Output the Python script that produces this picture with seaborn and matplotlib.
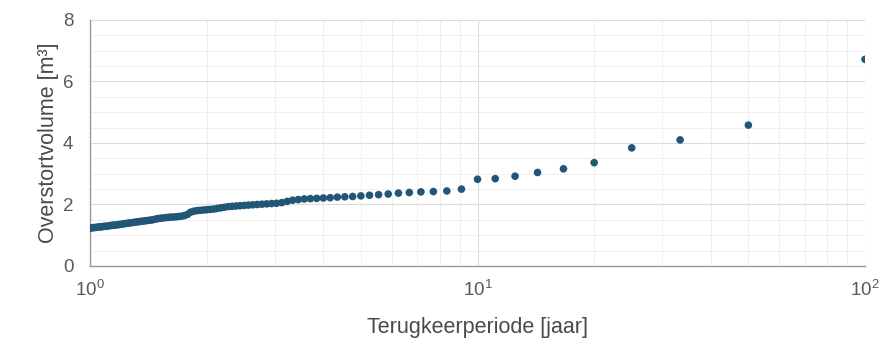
import numpy as np
import pandas as pd
import seaborn as sns
import matplotlib.pyplot as plt
from matplotlib.ticker import LogLocator, MultipleLocator, NullFormatter

# terugkeerperiode (jaar) per rang
periods = [100, 50, 33.333, 25, 20, 16.667, 14.286, 12.5, 11.111, 10,
           9.091, 8.333, 7.692, 7.143, 6.667, 6.25, 5.882, 5.556, 5.263, 5,
           4.762, 4.545, 4.348, 4.167, 4, 3.846, 3.704, 3.571, 3.448, 3.333,
           3.226, 3.125, 3.03, 2.941, 2.857, 2.778, 2.703, 2.632, 2.564, 2.5,
           2.439, 2.381, 2.326, 2.273, 2.222, 2.174, 2.128, 2.083, 2.041, 2,
           1.961, 1.923, 1.887, 1.852, 1.818, 1.786, 1.754, 1.724, 1.695, 1.667,
           1.639, 1.613, 1.587, 1.563, 1.538, 1.515, 1.493, 1.471, 1.449, 1.429,
           1.408, 1.389, 1.37, 1.351, 1.333, 1.316, 1.299, 1.282, 1.266, 1.25,
           1.235, 1.22, 1.205, 1.19, 1.176, 1.163, 1.149, 1.136, 1.124, 1.111,
           1.099, 1.087, 1.075, 1.064, 1.053, 1.042, 1.031, 1.02, 1.01, 1]

# overstortvolume (m3)
volumes = [6.72, 4.58, 4.10, 3.84, 3.36, 3.16, 3.04, 2.92, 2.84, 2.82,
           2.50, 2.44, 2.42, 2.41, 2.39, 2.37, 2.34, 2.32, 2.30, 2.28,
           2.26, 2.25, 2.24, 2.22, 2.21, 2.20, 2.19, 2.18, 2.16, 2.14,
           2.10, 2.06, 2.04, 2.03, 2.02, 2.01, 2.00, 1.99, 1.98, 1.97,
           1.96, 1.95, 1.94, 1.93, 1.91, 1.89, 1.87, 1.85, 1.84, 1.83,
           1.82, 1.81, 1.80, 1.78, 1.75, 1.68, 1.64, 1.62, 1.61, 1.60,
           1.59, 1.59, 1.58, 1.57, 1.56, 1.55, 1.54, 1.52, 1.50, 1.49,
           1.48, 1.47, 1.46, 1.45, 1.44, 1.43, 1.42, 1.41, 1.40, 1.39,
           1.38, 1.37, 1.36, 1.35, 1.34, 1.33, 1.33, 1.32, 1.31, 1.30,
           1.29, 1.29, 1.28, 1.27, 1.27, 1.26, 1.25, 1.25, 1.24, 1.23]

df = pd.DataFrame({'T': periods, 'V': volumes})

sns.set_style('white')
plt.rcParams['font.family'] = ['Liberation Sans', 'DejaVu Sans']
plt.rcParams['mathtext.fontset'] = 'custom'
plt.rcParams['mathtext.rm'] = 'Liberation Sans'

fig = plt.figure(figsize=(8.86, 3.5), dpi=100)
ax = fig.add_axes([0.1016, 0.24, 0.8747, 0.703])

sns.scatterplot(data=df, x='T', y='V', ax=ax, color='#225677', s=30,
                edgecolor='none', zorder=3)

ax.set_xscale('log')
ax.set_xlim(1, 100)
ax.set_ylim(0, 8)
ax.xaxis.set_major_locator(LogLocator(base=10))
ax.xaxis.set_minor_locator(LogLocator(base=10, subs=np.arange(2, 10)))
ax.xaxis.set_minor_formatter(NullFormatter())
ax.yaxis.set_major_locator(MultipleLocator(2))
ax.yaxis.set_minor_locator(MultipleLocator(0.5))

ax.grid(True, which='major', color='#dcdcdc', linewidth=0.8)
ax.grid(True, which='minor', color='#ececec', linewidth=0.6)
ax.set_axisbelow(True)

for side in ['top', 'right']:
    ax.spines[side].set_visible(False)
for side in ['left', 'bottom']:
    ax.spines[side].set_color('#9a9a9a')
    ax.spines[side].set_linewidth(1.0)

ax.tick_params(which='both', direction='in', colors='#9a9a9a',
               labelcolor='#5a5a5a', labelsize=13.5)
ax.tick_params(which='major', length=4)
ax.tick_params(which='minor', length=2, left=False)
ax.tick_params(axis='x', pad=10)
ax.tick_params(axis='y', pad=12)

ax.set_xlabel('Terugkeerperiode [jaar]', fontsize=15.5, color='#4a4a4a', labelpad=12)
ax.set_ylabel('Overstortvolume [m³]', fontsize=15.5, color='#4a4a4a', labelpad=3)

fig.savefig('out.png', dpi=100)
